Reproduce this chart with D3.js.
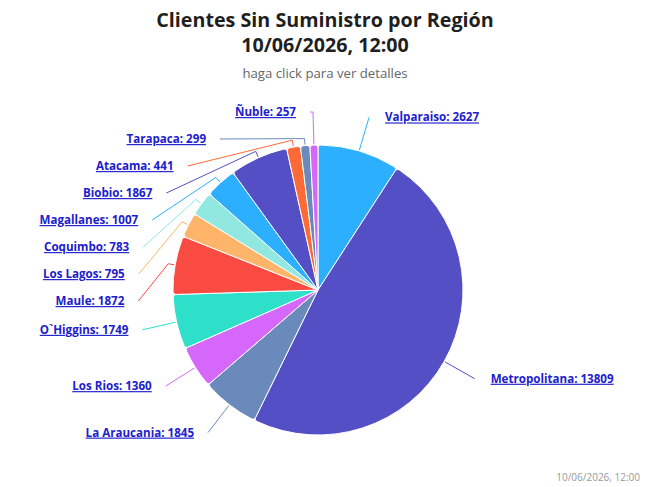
<!DOCTYPE html>
<html lang="es">
<head>
<meta charset="UTF-8"/>
<title>Clientes Sin Suministro</title>
<script src="https://d3js.org/d3.v7.min.js"></script>
<style>
  body { margin: 0; background: #fff; }
  text { font-family: "Open Sans", sans-serif; }
  .etiqueta { font-size: 11.6px; font-weight: 700; fill: #2020cc; text-decoration: underline; }
</style>
</head>
<body>
<div id="chart"></div>
<script>
// datos por region (orden del grafico, sentido horario desde arriba)
const regiones = ["Valparaiso", "Metropolitana", "La Araucania", "Los Rios", "O`Higgins", "Maule",
                  "Los Lagos", "Coquimbo", "Magallanes", "Biobio", "Atacama", "Tarapaca", "Ñuble"];
const clientes = [2627, 13809, 1845, 1360, 1749, 1872, 795, 783, 1007, 1867, 441, 299, 257];
const colores = ["#2caffe", "#544fc5", "#6b8abc", "#d568fb", "#2ee0ca", "#fa4b42",
                 "#feb56a", "#91e8e1", "#2caffe", "#544fc5", "#fe6a35", "#6b8abc", "#d568fb"];

const titulo = ["Clientes Sin Suministro por Región", "10/06/2026, 12:00"];
const subtitulo = "haga click para ver detalles";
const fecha = "10/06/2026, 12:00";

const width = 650, height = 487;
const cx = 318, cy = 290, r = 145;
const R = r + 35;          // radio de las etiquetas
const altoEtiqueta = 27;

const svg = d3.select("#chart").append("svg")
    .attr("width", width)
    .attr("height", height);

svg.selectAll("text.titulo")
    .data(titulo)
    .enter().append("text")
    .attr("class", "titulo")
    .attr("x", width / 2)
    .attr("y", (d, i) => 27 + i * 25)
    .attr("text-anchor", "middle")
    .style("font-size", "19.7px")
    .style("font-weight", "700")
    .style("fill", "#1f1f1f")
    .text(d => d);

svg.append("text")
    .attr("x", width / 2)
    .attr("y", 78)
    .attr("text-anchor", "middle")
    .style("font-size", "13.2px")
    .style("fill", "#666")
    .text(subtitulo);

svg.append("text")
    .attr("x", 640)
    .attr("y", 481)
    .attr("text-anchor", "end")
    .style("font-size", "10px")
    .style("fill", "#999")
    .text(fecha);

const datos = regiones.map((d, i) => ({ region: d, valor: clientes[i], color: colores[i] }));

const pie = d3.pie().sort(null).value(d => d.valor);
const arcos = pie(datos);

const arc = d3.arc().innerRadius(0).outerRadius(r).cornerRadius(3);

const g = svg.append("g").attr("transform", "translate(" + cx + "," + cy + ")");

g.selectAll("path")
    .data(arcos)
    .enter().append("path")
    .attr("d", arc)
    .attr("fill", d => d.data.color)
    .attr("stroke", "#fff")
    .attr("stroke-width", 1);

// posiciones de etiquetas
arcos.forEach(d => {
    d.medio = (d.startAngle + d.endAngle) / 2;
    d.izq = d.medio > Math.PI;
    d.objetivo = cy - R * Math.cos(d.medio);
});

function distribuir(items, minY, maxY) {
    items.sort((a, b) => a.objetivo - b.objetivo);
    let grupos = items.map(d => ({ items: [d] }));
    let cambio = true;
    while (cambio) {
        cambio = false;
        grupos.forEach(gr => {
            const n = gr.items.length;
            const m = d3.mean(gr.items, d => d.objetivo);
            gr.top = Math.max(minY, Math.min(maxY - (n - 1) * altoEtiqueta, m - (n - 1) * altoEtiqueta / 2));
        });
        for (let i = 0; i < grupos.length - 1; i++) {
            const a = grupos[i], b = grupos[i + 1];
            if (a.top + a.items.length * altoEtiqueta > b.top) {
                a.items = a.items.concat(b.items);
                grupos.splice(i + 1, 1);
                cambio = true;
                break;
            }
        }
    }
    grupos.forEach(gr => gr.items.forEach((d, k) => { d.y = gr.top + k * altoEtiqueta; }));
}

distribuir(arcos.filter(d => d.izq), 112, 450);
distribuir(arcos.filter(d => !d.izq), 112, 450);

arcos.forEach(d => {
    const dy = Math.max(-R, Math.min(R, d.y - cy));
    const dx = Math.sqrt(R * R - dy * dy);
    d.x = d.izq ? cx - dx : cx + dx;
    // la etiqueta mas alta queda casi encima del centro
    if (d.izq && d.x > cx - 30) d.x = cx - 8;
});

function punto(ang, rad) {
    return [cx + rad * Math.sin(ang), cy - rad * Math.cos(ang)];
}

function conector(d) {
    const corte = punto(d.medio, r + 7);
    const toque = punto(d.medio, r + 1);
    const dirY = -Math.cos(d.medio);
    const crookX = Math.abs(dirY) > 1e-6 ? cx + (d.y - cy) / dirY * Math.sin(d.medio) : d.x;
    const path = d3.path();
    path.moveTo(d.x, d.y);
    const ok = d.izq ? (crookX >= d.x && crookX <= corte[0]) : (crookX <= d.x && crookX >= corte[0]);
    if (ok) path.lineTo(crookX, d.y);
    path.lineTo(corte[0], corte[1]);
    path.lineTo(toque[0], toque[1]);
    return path.toString();
}

svg.selectAll("path.conector")
    .data(arcos)
    .enter().append("path")
    .attr("class", "conector")
    .attr("d", conector)
    .attr("fill", "none")
    .attr("stroke", d => d.data.color)
    .attr("stroke-width", 1);

svg.selectAll("text.etiqueta")
    .data(arcos)
    .enter().append("text")
    .attr("class", "etiqueta")
    .attr("x", d => d.izq ? d.x - 14 : d.x + 16)
    .attr("y", d => d.y)
    .attr("dy", "0.35em")
    .attr("text-anchor", d => d.izq ? "end" : "start")
    .text(d => d.data.region + ": " + d.data.valor);
</script>
</body>
</html>
